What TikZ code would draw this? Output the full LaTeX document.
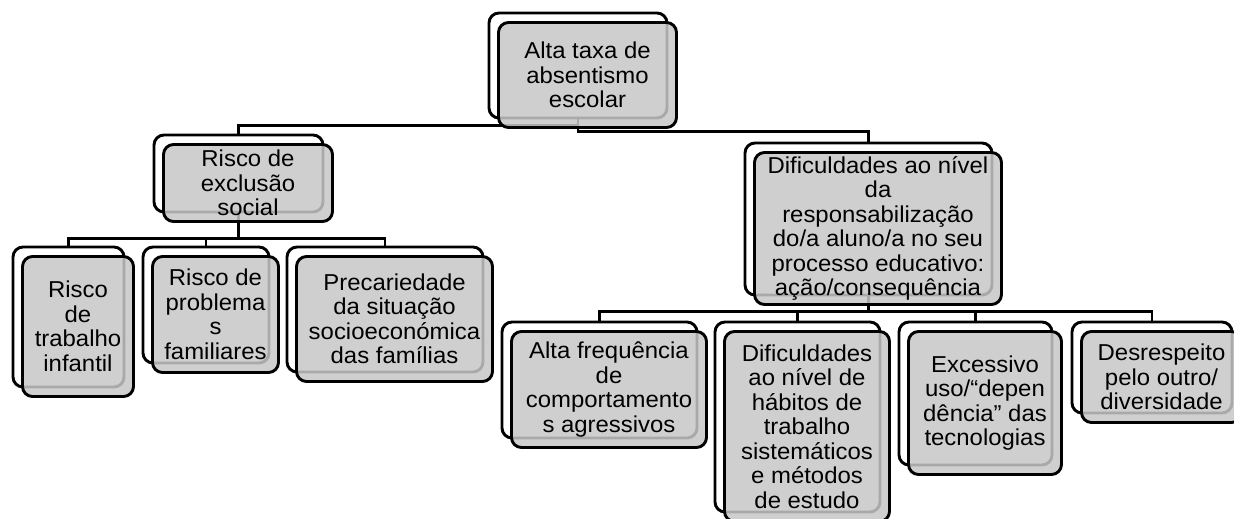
\documentclass[tikz,border=0pt]{standalone}
\usepackage{fontspec}
\setmainfont{Liberation Sans}[FakeStretch=1.04]
\usepackage{tikz}

\definecolor{boxgray}{gray}{0.78}

\begin{document}
\begin{tikzpicture}[x=1pt, y=-1pt,
  backbox/.style={draw=black, fill=white, line width=2.9pt, rounded corners=10pt, inner sep=0pt},
  frontbox/.style={draw=black, fill=boxgray, fill opacity=0.85, text opacity=1, line width=2.9pt, rounded corners=10pt, inner sep=0pt, align=center, font=\fontsize{23}{24.5}\selectfont},
  conn/.style={draw=black, line width=2.9pt}]
\useasboundingbox (0,0) rectangle (1234,519);
\clip (0,0) rectangle (1234,519);
\node[backbox, minimum width=178pt, minimum height=105pt] (AbsentismoB) at (578,65.5) {};
\node[backbox, minimum width=169pt, minimum height=77pt] (ExclusaoB) at (238.5,173.5) {};
\node[backbox, minimum width=111pt, minimum height=140pt] (TrabalhoB) at (68.5,317) {};
\node[backbox, minimum width=126pt, minimum height=116pt] (ProblemasB) at (206,305) {};
\node[backbox, minimum width=196pt, minimum height=125pt] (PrecariedadeB) at (385,309.5) {};
\node[backbox, minimum width=247pt, minimum height=152pt] (ResponsabB) at (868.5,219) {};
\node[backbox, minimum width=195pt, minimum height=116pt] (AgressivosB) at (599.5,380) {};
\node[backbox, minimum width=165pt, minimum height=190pt] (HabitosB) at (797.5,417) {};
\node[backbox, minimum width=153pt, minimum height=143pt] (TecnologiasB) at (975.5,393.5) {};
\node[backbox, minimum width=160pt, minimum height=91pt] (DiversidadeB) at (1152,367.5) {};
\draw[conn] (AbsentismoB.south) |- ([yshift=8pt]ExclusaoB.north) -- (ExclusaoB.north);
\draw[conn] (AbsentismoB.south) |- ([yshift=10pt]ResponsabB.north) -- (ResponsabB.north);
\draw[conn] (ExclusaoB.south) |- ([yshift=7pt]TrabalhoB.north) -- (TrabalhoB.north);
\draw[conn] (ExclusaoB.south) |- ([yshift=7pt]ProblemasB.north) -- (ProblemasB.north);
\draw[conn] (ExclusaoB.south) |- ([yshift=7pt]PrecariedadeB.north) -- (PrecariedadeB.north);
\draw[conn] (ResponsabB.south) |- ([yshift=9pt]AgressivosB.north) -- (AgressivosB.north);
\draw[conn] (ResponsabB.south) |- ([yshift=9pt]HabitosB.north) -- (HabitosB.north);
\draw[conn] (ResponsabB.south) |- ([yshift=9pt]TecnologiasB.north) -- (TecnologiasB.north);
\draw[conn] (ResponsabB.south) |- ([yshift=9pt]DiversidadeB.north) -- (DiversidadeB.north);
\node[frontbox, minimum width=178pt, minimum height=105pt] (Absentismo) at (587.5,75) {Alta taxa de\\absentismo\\escolar};
\node[frontbox, minimum width=169pt, minimum height=77pt] (Exclusao) at (248,183) {Risco de\\exclusão\\social};
\node[frontbox, minimum width=111pt, minimum height=140pt] (Trabalho) at (78,326.5) {Risco\\de\\trabalho\\infantil};
\node[frontbox, minimum width=126pt, minimum height=116pt] (Problemas) at (215.5,314.5) {Risco de\\problema\\s\\familiares};
\node[frontbox, minimum width=196pt, minimum height=125pt] (Precariedade) at (394.5,319) {Precariedade\\da situação\\socioeconómica\\das famílias};
\node[frontbox, minimum width=247pt, minimum height=152pt] (Responsab) at (878,228.5) {Dificuldades ao nível\\da\\responsabilização\\do/a aluno/a no seu\\processo educativo:\\ação/consequência};
\node[frontbox, minimum width=195pt, minimum height=116pt] (Agressivos) at (609,389.5) {Alta frequência\\de\\comportamento\\s agressivos};
\node[frontbox, minimum width=165pt, minimum height=190pt] (Habitos) at (807,426.5) {Dificuldades\\ao nível de\\hábitos de\\trabalho\\sistemáticos\\e métodos\\de estudo};
\node[frontbox, minimum width=153pt, minimum height=143pt] (Tecnologias) at (985,403) {Excessivo\\uso/“depen\\dência” das\\tecnologias};
\node[frontbox, minimum width=160pt, minimum height=91pt] (Diversidade) at (1161.5,377) {Desrespeito\\pelo outro/\\diversidade};
\end{tikzpicture}
\end{document}
